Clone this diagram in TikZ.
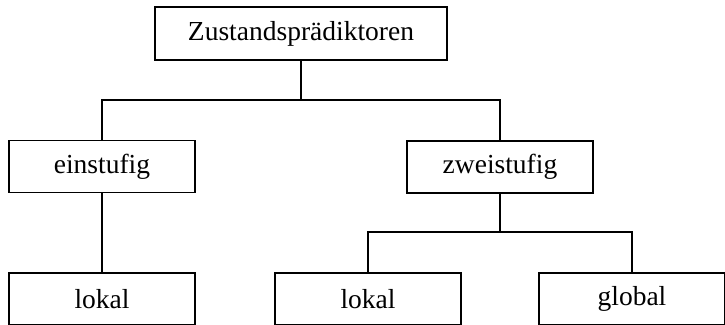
\documentclass[tikz,border=0pt]{standalone}
\usepackage{fontspec}
\setmainfont{Liberation Serif}
\begin{document}
\begin{tikzpicture}[x=1pt,y=1pt,
  box/.style={draw, line width=1.6pt, minimum width=186pt, minimum height=52pt,
    inner sep=0pt, font=\fontsize{27.5}{33}\selectfont},
  link/.style={line width=1.6pt}]
\useasboundingbox (0,0) rectangle (725,324);

% boxes
\node[box, minimum width=292pt, minimum height=53pt] (root) at (301,290.5) {Zustandsprädiktoren};
\node[box] (ein)  at (102,157.5) {einstufig};
\node[box] (zwei) at (500,157) {zweistufig};
\node[box] (lokA) at (102,25) {lokal};
\node[box] (lokB) at (368,25) {lokal};
\node[box] (glob) at (632,25) {global};

% junction levels
\coordinate (busA) at (301,224);
\coordinate (busB) at (500,92);

% root to first level
\draw[link] (root.south) -- (root.south |- busA);
\draw[link] (ein.north) -- (ein.north |- busA) -- (zwei.north |- busA) -- (zwei.north);

% first level to leaves
\draw[link] (ein.south) -- (lokA.north);
\draw[link] (zwei.south) -- (busB);
\draw[link] (lokB.north) -- (lokB.north |- busB) -- (glob.north |- busB) -- (glob.north);
\end{tikzpicture}
\end{document}
